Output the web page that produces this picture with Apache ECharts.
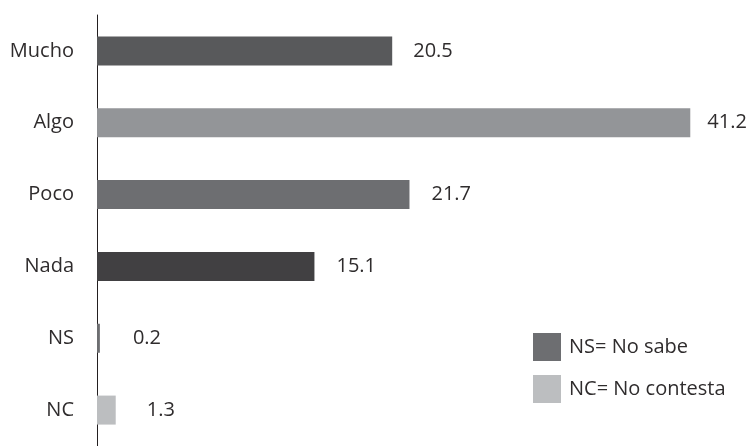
<!DOCTYPE html>
<html>
<head>
<meta charset="utf-8">
<script src="https://cdn.jsdelivr.net/npm/echarts@6/dist/echarts.min.js"></script>
<style>
  html, body { margin: 0; padding: 0; background: #ffffff; }
  #chart { width: 751px; height: 446px; }
</style>
</head>
<body>
<div id="chart"></div>
<script>
// Response categories, top to bottom
const categories = ['Mucho', 'Algo', 'Poco', 'Nada', 'NS', 'NC'];
// Percentage for each response
const values = [20.5, 41.2, 21.7, 15.1, 0.2, 1.3];
// Bar fill for each response
const barColors = ['#58595b', '#939598', '#6d6e71', '#414042', '#6d6e71', '#bcbec0'];
// Gap between each bar end and its value label
const labelGaps = [21, 17, 22, 22, 33, 31];
// Legend entries explaining the abbreviations
const legendNames = ['NS= No sabe', 'NC= No contesta'];
const legendColors = ['#6d6e71', '#bcbec0'];

const textColor = '#2f2c2d';
const fontFamily = '"Open Sans", Lato, sans-serif';
const fontSize = 20;

const chart = echarts.init(document.getElementById('chart'), null, { renderer: 'canvas' });

const series = [{
  type: 'bar',
  name: 'valores',
  stack: 'all',
  barWidth: 29,
  data: values.map((v, i) => ({
    value: v,
    itemStyle: { color: barColors[i] },
    label: { distance: labelGaps[i] }
  })),
  label: {
    show: true,
    position: 'right',
    color: textColor,
    fontSize: fontSize,
    fontFamily: fontFamily,
    padding: [5, 0, 0, 0],
    formatter: p => p.value.toFixed(1)
  },
  silent: true
}];

// Legend-only entries (no data)
legendNames.forEach((n, i) => {
  series.push({
    type: 'bar',
    name: n,
    stack: 'all',
    data: [],
    itemStyle: { color: legendColors[i] }
  });
});

chart.setOption({
  animation: false,
  backgroundColor: '#ffffff',
  grid: { left: 97, right: 6, top: 15, bottom: -1, containLabel: false },
  xAxis: {
    type: 'value',
    min: 0,
    max: 45,
    show: false
  },
  yAxis: {
    type: 'category',
    data: categories,
    inverse: true,
    axisLine: { show: true, lineStyle: { color: '#231f20', width: 1 } },
    axisTick: { show: false },
    splitLine: { show: false },
    axisLabel: {
      margin: 23,
      color: textColor,
      fontSize: fontSize,
      fontFamily: fontFamily,
      padding: [0, 0, 4, 0]
    }
  },
  legend: {
    data: legendNames,
    orient: 'vertical',
    left: 533,
    top: 333,
    padding: 0,
    itemWidth: 28,
    itemHeight: 28,
    itemGap: 14,
    icon: 'rect',
    selectedMode: false,
    textStyle: { color: textColor, fontSize: fontSize, fontFamily: fontFamily, padding: [0, 0, 0, 3] }
  },
  series: series
});
</script>
</body>
</html>
